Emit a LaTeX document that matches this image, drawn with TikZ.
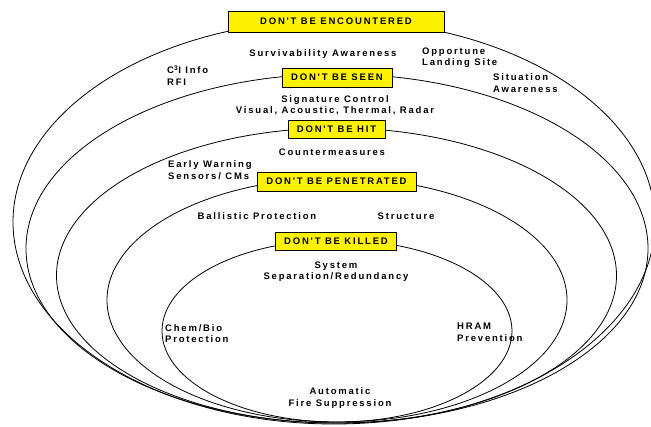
\documentclass[tikz,border=0pt]{standalone}
\usepackage{fontspec}
\usepackage{xcolor}
\usepackage{tikz}
\setmainfont{Liberation Sans}
\newfontfamily\lblfont[LetterSpace=19]{Liberation Sans}
\newcommand{\lbl}{\lblfont\bfseries\fontsize{9.5}{11.5}\selectfont}

\begin{document}
\begin{tikzpicture}[x=1pt, y=1pt,
  ring/.style={line width=0.8pt},
  tag/.style={draw, fill=yellow, line width=0.8pt, inner sep=0pt, minimum height=19pt, font=\lbl},
  txt/.style={align=center, inner sep=0pt, font=\lbl},
  txtl/.style={align=left, anchor=west, inner sep=0pt, font=\lbl}]
\useasboundingbox (0,0) rectangle (651,426);

% the five rings
\draw [ring] (334,204) ellipse (321 and 202);
\draw [ring] (337,177.5) ellipse (311 and 174.5);
\draw [ring] (336.5,150.5) ellipse (280 and 147.5);
\draw [ring] (337,126) ellipse (230 and 122);
\draw [ring] (337,95) ellipse (175 and 91);

% yellow tags
\node [tag, minimum width=216pt, minimum height=21pt] (encountered) at (336,404.5) {DON'T BE ENCOUNTERED};
\node [tag, minimum width=110pt] (seen) at (337,348.5) {DON'T BE SEEN};
\node [tag, minimum width=97pt, minimum height=18pt] (hit) at (336.5,297) {DON'T BE HIT};
\node [tag, minimum width=159pt] (penetrated) at (336.5,244.5) {DON'T BE PENETRATED};
\node [tag, minimum width=121pt, minimum height=18pt] (killed) at (336,185) {DON'T BE KILLED};

% outer ring
\node [txt] (survive) at (323,372) {Survivability Awareness};
\node [txtl] (landing) at (422,368.5) {Opportune\\Landing Site};
\node [txtl] (cinfo) at (167,350.5) {C\textsuperscript{3}I Info\\RFI};
\node [txtl] (situation) at (493,343) {Situation\\Awareness};

% second ring
\node [txt] (signature) at (335,320.5) {Signature Control\\Visual, Acoustic, Thermal, Radar};

% third ring
\node [txt] (counter) at (332,274) {Countermeasures};
\node [txtl] (warning) at (168,256) {Early Warning\\Sensors/ CMs};

% fourth ring
\node [txt] (ballistic) at (257,210) {Ballistic Protection};
\node [txt] (structure) at (406,210) {Structure};

% inner ring
\node [txt] (separation) at (336,154.5) {System\\Separation/Redundancy};
\node [txtl] (chembio) at (165,92.5) {Chem/Bio\\Protection};
\node [txtl] (hram) at (457,93.5) {HRAM\\Prevention};
\node [txt] (fire) at (340,28) {Automatic\\Fire Suppression};

\end{tikzpicture}
\end{document}
